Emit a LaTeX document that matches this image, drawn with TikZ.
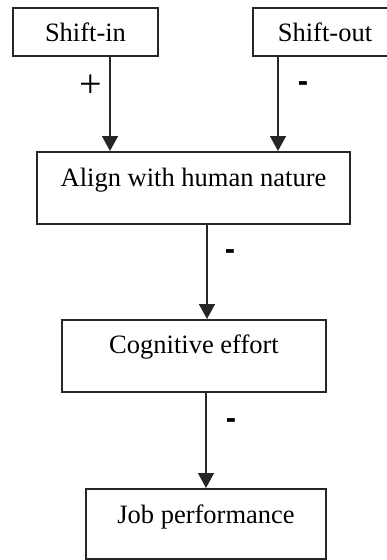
\documentclass[tikz,border=0pt]{standalone}
\usepackage{fontspec}
\setmainfont{Liberation Serif}
\setsansfont{Liberation Sans}
\usetikzlibrary{arrows.meta}
\begin{document}
\begin{tikzpicture}[x=1pt,y=-1pt,
  box/.style={draw=black!85, line width=1.6pt, rectangle, inner sep=0pt,
    font=\fontsize{26.5}{30}\selectfont},
  arr/.style={line width=1.6pt, draw=black!85, -{Triangle[width=16pt,length=15pt]}},
  plus/.style={font=\fontsize{40}{40}\selectfont, inner sep=0pt},
  minus/.style={font=\fontsize{31}{31}\sffamily\bfseries, inner sep=0pt}]
\useasboundingbox (0,0) rectangle (387,560);
\node[box, minimum width=145pt, text height=34pt, text depth=14pt, anchor=north] (si) at (85.5,7) {Shift-in};
\node[box, minimum width=144pt, text height=34pt, text depth=14pt, anchor=north] (so) at (325,7) {Shift-out};
\node[box, minimum width=313pt, text height=35pt, text depth=37pt, anchor=north] (al) at (193.5,151) {Align with human nature};
\node[box, minimum width=264pt, text height=34pt, text depth=38pt, anchor=north] (ce) at (194,319) {Cognitive effort};
\node[box, minimum width=240pt, text height=35pt, text depth=35pt, anchor=north] (jp) at (206,488) {Job performance};
\draw[arr] ([xshift=24.5pt]si.south) -- ([xshift=24.5pt]si.south |- al.north)
  node[plus, pos=0.31, xshift=-19pt] (l1) {+};
\draw[arr] ([xshift=-47pt]so.south) -- ([xshift=-47pt]so.south |- al.north)
  node[minus, pos=0.32, xshift=25pt] (l2) {-};
\draw[arr] ([xshift=13.5pt]al.south) -- ([xshift=13.5pt]al.south |- ce.north)
  node[minus, pos=0.32, xshift=23pt] (l3) {-};
\draw[arr] ([xshift=12pt]ce.south) -- ([xshift=12pt]ce.south |- jp.north)
  node[minus, pos=0.32, xshift=25pt] (l4) {-};
\end{tikzpicture}
\end{document}
